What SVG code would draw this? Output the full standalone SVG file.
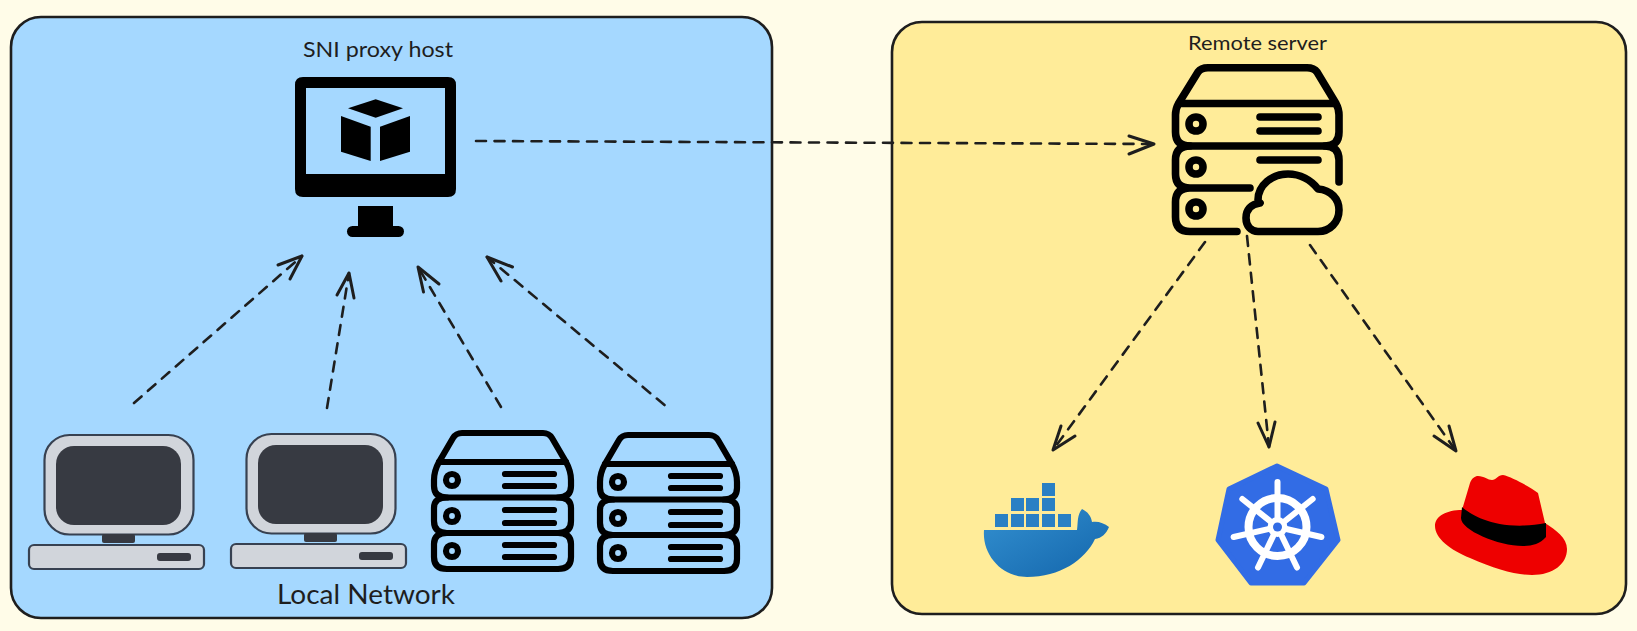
<svg xmlns="http://www.w3.org/2000/svg" width="1637" height="631" viewBox="0 0 1637 631">
<style>
.panel{stroke:#1e1e1e;stroke-width:2.600}
.t{font-family:"Lato","Noto Sans",sans-serif;fill:#1e1e1e}
.c{fill:none;stroke:#1e1e1e;stroke-width:2.600;stroke-dasharray:10 8.500;stroke-linecap:round}
.h{fill:none;stroke:#1e1e1e;stroke-width:3;stroke-linecap:round;stroke-linejoin:round}
.s{fill:none;stroke:#000;stroke-width:6.200;stroke-linecap:round;stroke-linejoin:round}
.b{fill:none;stroke:#000;stroke-width:7.600;stroke-linecap:round;stroke-linejoin:round}
.pc{fill:#d1d5db;stroke:#374151;stroke-width:2.200}
.pd{fill:#373a42}
.db{fill:#2a80c4}
</style>
<defs>
<linearGradient id="whale" x1="0" y1="0" x2="1" y2="1"><stop offset="0" stop-color="#3390d0"/><stop offset="1" stop-color="#1365ab"/></linearGradient>
<g id="pc">
<rect class="pc" x="44.500" y="435" width="149" height="99.500" rx="25"/>
<rect class="pd" x="56" y="446" width="125" height="79" rx="18"/>
<rect class="pd" x="102" y="534" width="33" height="9" rx="2"/>
<rect class="pc" x="29" y="545" width="175" height="24" rx="5"/>
<rect class="pd" x="157" y="553" width="34" height="8" rx="3"/>
</g>
<g id="srv">
<path class="s" d="M434 480Q434 471 439 462L453 438Q456 433 462 433H543Q549 433 552 438L566 462Q571 471 571 480V486Q571 497.500 558 497.500H447Q434 497.500 434 486Z"/>
<path class="s" d="M439 462H566M447 497.500Q434 497.500 434 508V521Q434 533 447 533H558Q571 533 571 521V508Q571 497.500 558 497.500M447 533Q434 533 434 544V557Q434 569 447 569H558Q571 569 571 557V544Q571 533 558 533"/>
<circle class="s" cx="452" cy="480" r="6"/><circle class="s" cx="452" cy="516" r="6"/><circle class="s" cx="452" cy="551" r="6"/>
<path class="s" d="M505 474H554M505 486H554M505 510H554M505 523H554M505 545H554M505 557H554"/>
</g>
</defs>
<rect width="1637" height="631" fill="#fffce8"/>
<g id="local-network">
<rect class="panel" x="11" y="17" width="761" height="601" rx="30" fill="#a5d8ff"/>
<text class="t" x="277" y="604" font-size="26" textLength="178" lengthAdjust="spacingAndGlyphs">Local Network</text>
</g>
<g id="remote-panel">
<rect class="panel" x="892" y="22" width="734" height="592" rx="30" fill="#ffec99"/>
</g>
<g id="sni-proxy-host">
<text class="t" x="303" y="57" font-size="21" textLength="150" lengthAdjust="spacingAndGlyphs">SNI proxy host</text>
<path fill-rule="evenodd" d="M303 77H448Q456 77 456 85V189Q456 197 448 197H303Q295 197 295 189V85Q295 77 303 77ZM306 88V174H445V88Z"/>
<rect x="358" y="206" width="35" height="22"/>
<rect x="347" y="226" width="57" height="11" rx="5.500"/>
<path d="M348 108.300L375.700 99.300L403 108.300L375.700 117.700Z"/>
<path d="M341 116L370.700 126.700V161L341 151.700Z"/>
<path d="M380 126.700L410 116V151.700L380 161Z"/>
</g>
<g id="computer-1"><use href="#pc"/></g>
<g id="computer-2"><use href="#pc" x="202" y="-1"/></g>
<g id="server-1"><use href="#srv"/></g>
<g id="server-2"><use href="#srv" x="166" y="2"/></g>
<g id="remote-server">
<text class="t" x="1188" y="50" font-size="20" textLength="139" lengthAdjust="spacingAndGlyphs">Remote server</text>
<path class="b" d="M1178.500 103.500L1198 72Q1201 67.700 1208 67.700H1307Q1314 67.700 1317 72L1336 103.500Q1339 109 1339 115V132Q1339 146 1325 146H1190Q1175.500 146 1175.500 132V115Q1175.500 109 1178.500 103.500Z"/>
<path class="b" d="M1180 103.500H1335M1190 146Q1175.500 146 1175.500 160V174Q1175.500 188 1190 188H1250M1190 188Q1175.500 188 1175.500 202V217Q1175.500 231.500 1190 231.500H1237M1325 146Q1339 146 1339 160V182"/>
<circle class="b" cx="1196" cy="124" r="7"/><circle class="b" cx="1196" cy="167" r="7"/><circle class="b" cx="1196" cy="209" r="7"/>
<path class="b" d="M1260 117H1318M1260 131H1318M1260 160H1318"/>
<path class="b" d="M1258 231.500H1318C1330 231.500 1339 222 1339 210C1339 199 1331 190 1318 189C1311 180 1300 174 1288 174C1272 174 1258 185 1258 200C1258 201 1259 202 1260 203C1251 204 1246 210 1246 218C1246 226 1251 231.500 1258 231.500Z"/>
</g>
<g id="docker">
<g class="db">
<rect x="995" y="514" width="13" height="13"/><rect x="1011" y="514" width="13" height="13"/><rect x="1026" y="514" width="13" height="13"/><rect x="1042" y="514" width="13" height="13"/><rect x="1058" y="514" width="13" height="13"/>
<rect x="1011" y="498" width="13" height="13"/><rect x="1026" y="498" width="13" height="13"/><rect x="1042" y="498" width="13" height="13"/>
<rect x="1042" y="483" width="13" height="13"/>
</g>
<path fill="url(#whale)" d="M984 530H1077C1078 522 1077 515 1082 509C1088 512 1091 516 1092 522C1098 521 1104 523 1109 527C1106 534 1102 538 1095 539C1085 560 1060 577 1027 577C1002 577 982 555 984 530Z"/>
</g>
<g id="kubernetes">
<path fill="#326ce5" stroke="#326ce5" stroke-width="5" stroke-linejoin="round" d="M1277 466L1326 489L1338 540L1304 583L1251 583L1218 540L1229 489Z"/>
<circle cx="1277.500" cy="527" r="29" fill="none" stroke="#fff" stroke-width="8"/>
<g stroke="#fff" stroke-width="6" stroke-linecap="round">
<path d="M1277.500 527L1277.500 482M1277.500 527L1312.700 499M1277.500 527L1321.400 537M1277.500 527L1297 567.500M1277.500 527L1258 567.500M1277.500 527L1233.600 537M1277.500 527L1242.300 499"/>
</g>
<circle cx="1277.500" cy="527" r="10" fill="#fff"/>
<circle cx="1277.500" cy="527" r="4.500" fill="#326ce5"/>
</g>
<g id="redhat">
<path fill="#e00" d="M1478 476C1484 476 1488 480 1492 480C1496 480 1498 475 1503 475C1512 477 1530 487 1538 493L1545 523C1556 530 1567 538 1567 549C1567 564 1553 575 1532 575C1515 575 1495 569 1470 558C1450 550 1435 538 1435 526C1435 516 1447 510 1462 510L1470 483C1472 478 1475 476 1478 476Z"/>
<path fill="#000" d="M1462 507C1472 516 1500 532 1546 523V537C1540 544 1532 546 1523 546C1498 546 1461 530 1461 518Z"/>
</g>
<g id="connectors">
<path class="c" d="M134 403L302 256"/><path class="h" d="M278 265L302 256L290 279"/>
<path class="c" d="M327 408L349 273"/><path class="h" d="M337 295L349 273L354 298"/>
<path class="c" d="M501 407L418 267"/><path class="h" d="M423.500 292L418 267L439 284"/>
<path class="c" d="M664.500 405L487 257"/><path class="h" d="M501 281L487 257L512.500 267"/>
<path class="c" d="M476 141L1154 144"/><path class="h" d="M1129 136L1154 144L1129 154"/>
<path class="c" d="M1205 242L1053 450"/><path class="h" d="M1061 426L1053 450L1075 436"/>
<path class="c" d="M1247 236L1269 447"/><path class="h" d="M1258 423L1269 447L1275 422"/>
<path class="c" d="M1310 245L1456 451"/><path class="h" d="M1434 436L1456 451L1449 426"/>
</g>
</svg>
